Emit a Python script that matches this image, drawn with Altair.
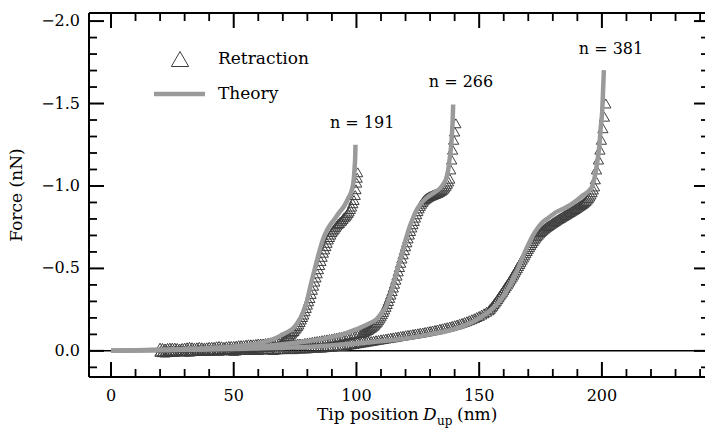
import altair as alt
import pandas as pd

# ---------------- data ----------------
# Retraction, n = 191
x191 = [20, 21, 22, 23, 24, 25, 26, 27, 28, 29,
        30, 31, 32, 33, 34, 35, 36, 37, 38, 39,
        40, 41, 42, 43, 44, 45, 46, 47, 48, 49,
        50, 51, 52, 53, 54, 55, 56, 57, 58, 59,
        60, 61, 62, 63, 64, 65, 66, 67, 68, 69,
        70, 70.5, 71, 71.5, 72, 72.5, 73, 73.5, 74, 74.5, 75, 75.5, 76, 76.5, 77, 77.5, 78, 78.5, 79, 79.5,
        80, 80.5, 81, 81.5, 82, 82.5, 83, 83.5, 84, 84.5, 85, 85.5, 86, 86.5, 87, 87.5, 88, 88.5, 89, 89.5,
        90, 90.5, 91, 91.5, 92, 92.5, 93, 93.5, 94, 94.5, 95, 95.5, 96, 96.5, 97, 97.5, 98, 98.5, 99, 99.5,
        99.8, 100.1, 100.3, 100.5]
y191 = [-0.02, -0.018, -0.015, -0.018, -0.02, -0.02, -0.02, -0.018, -0.015, -0.018,
        -0.02, -0.022, -0.025, -0.022, -0.02, -0.022, -0.025, -0.022, -0.02, -0.022,
        -0.025, -0.025, -0.025, -0.028, -0.03, -0.028, -0.025, -0.028, -0.03, -0.03,
        -0.03, -0.032, -0.035, -0.035, -0.035, -0.038, -0.04, -0.04, -0.04, -0.042,
        -0.045, -0.045, -0.045, -0.048, -0.05, -0.052, -0.055, -0.058, -0.06, -0.062,
        -0.065, -0.07, -0.075, -0.08, -0.085, -0.09, -0.1, -0.105, -0.115, -0.12,
        -0.13, -0.14, -0.15, -0.16, -0.175, -0.19, -0.205, -0.22, -0.24, -0.26,
        -0.28, -0.3, -0.32, -0.345, -0.37, -0.395, -0.42, -0.445, -0.47, -0.495,
        -0.52, -0.545, -0.57, -0.595, -0.615, -0.635, -0.655, -0.675, -0.69, -0.705,
        -0.72, -0.73, -0.74, -0.75, -0.76, -0.77, -0.775, -0.785, -0.79, -0.8,
        -0.81, -0.815, -0.825, -0.835, -0.845, -0.86, -0.875, -0.895, -0.915, -0.945,
        -0.98, -1.02, -1.05, -1.083]

# Retraction, n = 266
x266 = [20, 21, 22, 23, 24, 25, 26, 27, 28, 29,
        30, 31, 32, 33, 34, 35, 36, 37, 38, 39,
        40, 41, 42, 43, 44, 45, 46, 47, 48, 49,
        50, 51, 52, 53, 54, 55, 56, 57, 58, 59,
        60, 61, 62, 63, 64, 65, 66, 67, 68, 69,
        70, 71, 72, 73, 74, 75, 76, 77, 78, 79,
        80, 81, 82, 83, 84, 85, 86, 87, 88,
        89, 90, 91, 92, 93, 94, 95, 96, 97, 98, 99, 100, 101, 102,
        102.5, 103, 103.5, 104, 104.5, 105, 105.5, 106, 106.5, 107,
        107.5, 108, 108.5, 109, 109.5, 110, 110.5, 111, 111.5, 112,
        112.5, 113, 113.5, 114, 114.5, 115, 115.5, 116, 116.5, 117,
        117.5, 118, 118.5, 119, 119.5, 120, 120.5, 121, 121.5, 122,
        122.5, 123, 123.5, 124, 124.5, 125, 125.5, 126, 126.5, 127,
        127.5, 128, 128.5, 129, 129.5, 130, 130.5, 131, 131.5, 132,
        132.5, 133, 133.5, 134, 134.5, 135, 135.5, 136, 136.5, 137,
        137.5, 138,
        138.4, 138.8, 139.2, 139.6, 140.0, 140.5]
y266 = [0.005, 0.008, 0.01, 0.008, 0.005, 0.005, 0.005, 0.002, 0.0, 0.002,
        0.005, 0.002, 0.0, 0.0, 0.0, -0.002, -0.005, -0.002, 0.0, -0.002,
        -0.005, -0.005, -0.005, -0.008, -0.01, -0.008, -0.005, -0.008, -0.01, -0.01,
        -0.01, -0.012, -0.015, -0.015, -0.015, -0.015, -0.015, -0.018, -0.02, -0.02,
        -0.02, -0.022, -0.025, -0.025, -0.025, -0.028, -0.03, -0.03, -0.03, -0.032,
        -0.035, -0.035, -0.035, -0.038, -0.04, -0.042, -0.045, -0.045, -0.045, -0.048,
        -0.05, -0.052, -0.055, -0.058, -0.06, -0.062, -0.065, -0.068, -0.07,
        -0.072, -0.075, -0.078, -0.081, -0.084, -0.087, -0.09, -0.093, -0.096, -0.099, -0.102, -0.105, -0.107, -0.109,
        -0.111, -0.114, -0.118, -0.122, -0.126, -0.13, -0.135, -0.14, -0.146, -0.152,
        -0.159, -0.167, -0.176, -0.186, -0.197, -0.209, -0.222, -0.236, -0.251, -0.267,
        -0.284, -0.302, -0.321, -0.341, -0.362, -0.384, -0.407, -0.431, -0.456, -0.482,
        -0.508, -0.534, -0.56, -0.585, -0.61, -0.634, -0.658, -0.682, -0.705, -0.727,
        -0.748, -0.768, -0.788, -0.808, -0.828, -0.847, -0.864, -0.879, -0.892, -0.903,
        -0.912, -0.92, -0.926, -0.931, -0.935, -0.939, -0.942, -0.945, -0.948, -0.951,
        -0.954, -0.957, -0.961, -0.965, -0.97, -0.976, -0.983, -0.991, -1.001, -1.013,
        -1.027, -1.044,
        -1.1, -1.16, -1.22, -1.28, -1.33, -1.38]

# Retraction, n = 381
x381 = [20, 21, 22, 23, 24, 25, 26, 27, 28, 29,
        30, 31, 32, 33, 34, 35, 36, 37, 38, 39,
        40, 41, 42, 43, 44, 45, 46, 47, 48, 49,
        50, 51, 52, 53, 54, 55, 56, 57, 58, 59,
        60, 61, 62, 63, 64, 65, 66, 67, 68, 69,
        70, 71, 72, 73, 74, 75, 76, 77, 78, 79,
        80, 81, 82, 83, 84, 85, 86, 87, 88, 89,
        90, 91, 92, 93, 94, 95, 96, 97,
        98, 99, 100, 101, 102, 103, 104, 105, 106, 107, 108, 109, 110, 111, 112, 113, 114, 115, 116, 117,
        118, 119, 120, 121, 122, 123, 124, 125, 126, 127, 128, 129, 130, 131, 132, 133, 134, 135, 136, 137,
        138, 139, 140, 141, 142, 143, 144, 145, 146, 147, 148, 149, 150, 151, 152, 153, 154,
        154.5, 155, 155.5, 156, 156.5, 157, 157.5, 158, 158.5, 159,
        159.5, 160, 160.5, 161, 161.5, 162, 162.5, 163, 163.5, 164,
        164.5, 165, 165.5, 166, 166.5, 167, 167.5, 168, 168.5, 169,
        169.5, 170, 170.5, 171, 171.5, 172, 172.5, 173, 173.5, 174,
        174.5, 175, 175.5, 176, 176.5, 177, 177.5, 178, 178.5, 179,
        179.5, 180, 180.5, 181, 181.5, 182, 182.5, 183, 183.5, 184,
        184.5, 185, 185.5, 186, 186.5, 187, 187.5, 188, 188.5, 189,
        189.5, 190, 190.5, 191, 191.5, 192, 192.5, 193, 193.5, 194,
        194.5, 195, 195.5, 196, 196.5, 197,
        197.3, 197.8, 198.6, 199.2, 199.8, 200.4, 201.0, 201.6]
y381 = [0.005, 0.005, 0.005, 0.002, 0.0, 0.002, 0.005, 0.002, 0.0, 0.0,
        0.0, 0.002, 0.005, 0.002, 0.0, 0.0, 0.0, -0.002, -0.005, -0.002,
        0.0, -0.002, -0.005, -0.002, 0.0, -0.002, -0.005, -0.005, -0.005, -0.002,
        0.0, -0.002, -0.005, -0.005, -0.005, -0.005, -0.005, -0.008, -0.01, -0.008,
        -0.005, -0.008, -0.01, -0.01, -0.01, -0.008, -0.005, -0.008, -0.01, -0.01,
        -0.01, -0.012, -0.015, -0.012, -0.01, -0.012, -0.015, -0.015, -0.015, -0.015,
        -0.015, -0.018, -0.02, -0.02, -0.02, -0.02, -0.02, -0.022, -0.025, -0.025,
        -0.025, -0.028, -0.03, -0.03, -0.03, -0.032, -0.035, -0.038,
        -0.04, -0.042, -0.045, -0.047, -0.05, -0.052, -0.055, -0.057, -0.06, -0.062,
        -0.065, -0.067, -0.07, -0.072, -0.075, -0.077, -0.08, -0.082, -0.085, -0.087,
        -0.09, -0.092, -0.095, -0.097, -0.1, -0.102, -0.105, -0.107, -0.11, -0.112,
        -0.115, -0.118, -0.121, -0.124, -0.127, -0.13, -0.134, -0.137, -0.141, -0.144,
        -0.148, -0.152, -0.156, -0.16, -0.165, -0.17, -0.175, -0.18, -0.186, -0.192,
        -0.198, -0.205, -0.212, -0.22, -0.228, -0.237, -0.246,
        -0.255, -0.264, -0.273, -0.283, -0.293, -0.303, -0.314, -0.325, -0.336, -0.347,
        -0.358, -0.37, -0.381, -0.392, -0.403, -0.414, -0.426, -0.438, -0.45, -0.462,
        -0.475, -0.488, -0.501, -0.514, -0.527, -0.54, -0.553, -0.566, -0.579, -0.592,
        -0.605, -0.618, -0.63, -0.642, -0.654, -0.665, -0.676, -0.686, -0.695, -0.704,
        -0.712, -0.72, -0.727, -0.734, -0.74, -0.746, -0.752, -0.757, -0.762, -0.767,
        -0.772, -0.777, -0.782, -0.787, -0.792, -0.797, -0.801, -0.806, -0.81, -0.815,
        -0.819, -0.824, -0.828, -0.833, -0.837, -0.842, -0.846, -0.851, -0.855, -0.86,
        -0.865, -0.87, -0.875, -0.88, -0.885, -0.89, -0.896, -0.902, -0.909, -0.917,
        -0.926, -0.936, -0.948, -0.962, -0.978, -0.997,
        -1.04, -1.1, -1.16, -1.22, -1.28, -1.35, -1.42, -1.5]

# Theory curves
t191x = [0, 10, 20, 30, 40, 50, 56.5, 60, 64, 67.4, 70, 72, 74.1, 76, 78.2, 80, 80.9, 82.9, 84.3, 85.6,
         87, 88.3, 91.1, 93, 95.1, 96.8, 98.2, 98.9, 99.2, 99.5, 99.6]
t191y = [0, -0.003, -0.007, -0.012, -0.018, -0.027, -0.037, -0.045, -0.06, -0.08, -0.1, -0.115, -0.135,
         -0.17, -0.23, -0.31, -0.37, -0.49, -0.57, -0.64, -0.70, -0.74, -0.80, -0.84, -0.88, -0.93, -0.98,
         -1.04, -1.10, -1.18, -1.25]
t266x = [0, 20, 40, 60, 70, 80, 90, 94.4, 98, 102.6, 105, 108, 110, 112.1, 113.5, 114.8, 116, 117.5,
         118.8, 120.2, 121.5, 122.9, 124.2, 125.6, 127.6, 129.7, 131.7, 133.7, 135.3, 136.5, 137.3, 137.8,
         138.5, 138.9, 139.2, 139.4]
t266y = [0, -0.005, -0.012, -0.025, -0.04, -0.058, -0.085, -0.10, -0.12, -0.148, -0.165, -0.19, -0.225,
         -0.27, -0.33, -0.39, -0.46, -0.535, -0.61, -0.68, -0.745, -0.80, -0.845, -0.88, -0.915, -0.94,
         -0.96, -0.98, -1.01, -1.043, -1.09, -1.145, -1.23, -1.31, -1.40, -1.494]
t381x = [0, 20, 40, 60, 83.6, 100, 110, 120, 130, 140, 145.9, 150, 154.1, 157, 159.5, 161.5, 163.5,
         165.5, 167.6, 169.7, 171.7, 173.7, 175.7, 178.5, 181.2, 184, 186.6, 189.5, 192, 194.3, 196.1,
         197.3, 198.1, 199, 199.5, 200.1, 200.4, 200.8]
t381y = [0, -0.004, -0.009, -0.015, -0.026, -0.045, -0.058, -0.075, -0.1, -0.132, -0.165, -0.198, -0.24,
         -0.28, -0.325, -0.37, -0.425, -0.49, -0.565, -0.635, -0.695, -0.742, -0.778, -0.81, -0.84, -0.86,
         -0.88, -0.91, -0.94, -0.965, -1.0, -1.07, -1.145, -1.25, -1.35, -1.45, -1.55, -1.703]

# Annotations
ann_text = ["n = 191", "n = 266", "n = 381"]
ann_x = [102.3, 142.6, 203.7]
ann_y = [-1.384, -1.628, -1.829]

# Axes ticks
x_major = [0, 50, 100, 150, 200]
x_minor = [10, 20, 30, 40, 60, 70, 80, 90, 110, 120, 130, 140, 160, 170, 180, 190, 210, 220, 230, 240]
y_major = [-2.0, -1.5, -1.0, -0.5, 0.0]
y_minor = [0.1, -0.1, -0.2, -0.3, -0.4, -0.6, -0.7, -0.8, -0.9, -1.1, -1.2, -1.3, -1.4,
           -1.6, -1.7, -1.8, -1.9]

# ---------------- build ----------------
W, H = 616, 364
FONT = "DejaVu Serif"
TRI = "#3d3d3d"
GRAY = "#9a9a9a"

xs = alt.Scale(domain=[-8.96, 242.0], nice=False, zero=False)
ys = alt.Scale(domain=[-2.049, 0.1585], nice=False, zero=False, reverse=True)

rows = []
for n, xv, yv in [(191, x191, y191), (266, x266, y266), (381, x381, y381)]:
    for a, b in zip(xv, yv):
        rows.append({"x": a, "y": b, "n": n})
retr = pd.DataFrame(rows)

trows = []
for n, xv, yv in [(191, t191x, t191y), (266, t266x, t266y), (381, t381x, t381y)]:
    for i, (a, b) in enumerate(zip(xv, yv)):
        trows.append({"x": a, "y": b, "n": n, "i": i})
theo = pd.DataFrame(trows)

dummy = pd.DataFrame({"a": [0]})

zero_line = alt.Chart(pd.DataFrame({"v": [0.0]})).mark_rule(color="black", strokeWidth=1.5).encode(
    y=alt.Y("v:Q", scale=ys, axis=None), x=alt.value(0), x2=alt.value(W))

points = alt.Chart(retr).mark_point(shape="triangle-up", filled=False, size=105, color=TRI,
                                    strokeWidth=1, opacity=1).encode(
    x=alt.X("x:Q", scale=xs, axis=None),
    y=alt.Y("y:Q", scale=ys, axis=None),
    detail="n:N")

lines = alt.Chart(theo).mark_line(color=GRAY, strokeWidth=4.5, interpolate="monotone").encode(
    x=alt.X("x:Q", scale=xs, axis=None),
    y=alt.Y("y:Q", scale=ys, axis=None),
    detail="n:N", order="i:Q")


def xticks(vals, length, width):
    df = pd.DataFrame({"v": vals})
    bottom = alt.Chart(df).mark_rule(color="black", strokeWidth=width).encode(
        x=alt.X("v:Q", scale=xs, axis=None), y=alt.value(H), y2=alt.value(H - length))
    top = alt.Chart(df).mark_rule(color="black", strokeWidth=width).encode(
        x=alt.X("v:Q", scale=xs, axis=None), y=alt.value(0), y2=alt.value(length))
    return [bottom, top]


RIGHT = W + 4


def yticks(vals, length, width):
    df = pd.DataFrame({"v": vals})
    left = alt.Chart(df).mark_rule(color="black", strokeWidth=width).encode(
        y=alt.Y("v:Q", scale=ys, axis=None), x=alt.value(0), x2=alt.value(length))
    right = alt.Chart(df).mark_rule(color="black", strokeWidth=width).encode(
        y=alt.Y("v:Q", scale=ys, axis=None), x=alt.value(RIGHT), x2=alt.value(RIGHT - length))
    return [left, right]


ticks = xticks(x_major, 15, 2) + xticks(x_minor, 8, 1.8) + yticks(y_major, 15, 2) + yticks(y_minor, 8, 1.8)

tick_labels = [
    alt.Chart(pd.DataFrame({"v": x_major})).mark_text(
        align="center", baseline="alphabetic", font=FONT, fontSize=16, color="black").encode(
        x=alt.X("v:Q", scale=xs, axis=None), y=alt.value(388), text=alt.Text("v:Q", format="d")),
    alt.Chart(pd.DataFrame({"v": y_major})).mark_text(
        align="right", baseline="middle", font=FONT, fontSize=16, color="black").encode(
        y=alt.Y("v:Q", scale=ys, axis=None), x=alt.value(-9), text=alt.Text("v:Q", format=".1f")),
]

frame = [
    alt.Chart(dummy).mark_rule(color="black", strokeWidth=2).encode(
        x=alt.value(0), y=alt.value(0), y2=alt.value(H)),
    alt.Chart(dummy).mark_rule(color="black", strokeWidth=2).encode(
        y=alt.value(0), x=alt.value(0), x2=alt.value(W)),
    alt.Chart(dummy).mark_rule(color="black", strokeWidth=2).encode(
        y=alt.value(H), x=alt.value(0), x2=alt.value(W)),
]

legend = [
    alt.Chart(dummy).mark_point(shape="triangle-up", filled=False, size=300, color=TRI,
                                strokeWidth=1, opacity=1).encode(x=alt.value(91), y=alt.value(46)),
    alt.Chart(dummy).mark_rule(color=GRAY, strokeWidth=4.5).encode(
        x=alt.value(65), x2=alt.value(116), y=alt.value(81)),
    alt.Chart(dummy).mark_text(text="Retraction", align="left", baseline="middle", font=FONT,
                               fontSize=17, color="black").encode(x=alt.value(129), y=alt.value(46)),
    alt.Chart(dummy).mark_text(text="Theory", align="left", baseline="middle", font=FONT,
                               fontSize=17, color="black").encode(x=alt.value(129), y=alt.value(81)),
]

ann = alt.Chart(pd.DataFrame({"x": ann_x, "y": ann_y, "t": ann_text})).mark_text(
    align="center", baseline="middle", font=FONT, fontSize=16, color="black").encode(
    x=alt.X("x:Q", scale=xs, axis=None), y=alt.Y("y:Q", scale=ys, axis=None), text="t:N")

TY = 407
titles = [
    alt.Chart(dummy).mark_text(text="Tip position", align="left", baseline="alphabetic", font=FONT,
                               fontSize=17, color="black").encode(x=alt.value(228), y=alt.value(TY)),
    alt.Chart(dummy).mark_text(text="D", align="left", baseline="alphabetic", font=FONT, fontStyle="italic",
                               fontSize=17, color="black").encode(x=alt.value(334), y=alt.value(TY)),
    alt.Chart(dummy).mark_text(text="up", align="left", baseline="alphabetic", font=FONT,
                               fontSize=12, color="black").encode(x=alt.value(348), y=alt.value(TY + 5)),
    alt.Chart(dummy).mark_text(text="(nm)", align="left", baseline="alphabetic", font=FONT,
                               fontSize=17, color="black").encode(x=alt.value(368), y=alt.value(TY)),
    alt.Chart(dummy).mark_text(text="Force (nN)", align="center", baseline="middle", font=FONT, angle=270,
                               fontSize=17, color="black").encode(x=alt.value(-72), y=alt.value(182)),
]

chart = alt.layer(zero_line, points, lines, ann, *ticks, *tick_labels, *frame, *legend, *titles).properties(
    width=W, height=H,
    padding={"left": 89, "top": 13, "right": 0, "bottom": 61},
    autosize=alt.AutoSizeParams(type="none"),
    background="white",
).configure_view(strokeWidth=0)

chart.save("out.html", embed_options={"renderer": "svg", "actions": False})
